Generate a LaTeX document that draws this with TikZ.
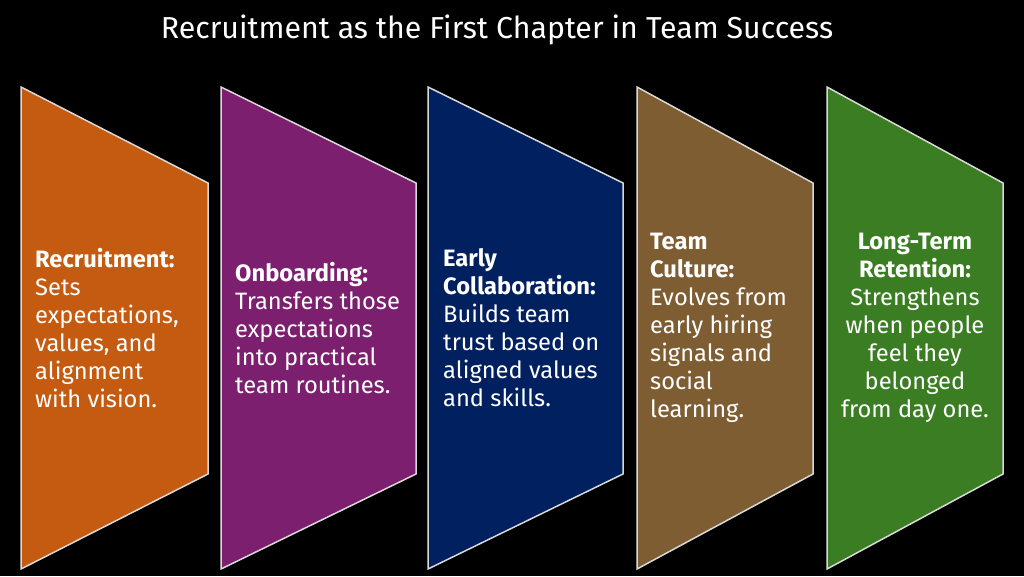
\documentclass[tikz,border=0pt]{standalone}
\usepackage{fontspec}
\setmainfont{Fira Sans}
\usetikzlibrary{positioning,calc}
\definecolor{rust}{HTML}{C55A11}
\definecolor{plum}{HTML}{7B1F6E}
\definecolor{navy}{HTML}{002060}
\definecolor{umber}{HTML}{7E5D32}
\definecolor{moss}{HTML}{3A7D22}
\definecolor{rim}{HTML}{D9D9D9}
\tikzset{
 panel/.style={draw=rim, line width=1.5pt, line join=miter},
 blurb/.style={text=white, inner sep=0pt, align=#1,
   font=\fontsize{23.7}{28}\selectfont},
 blurb/.default=left
}

\begin{document}
\begin{tikzpicture}[x=1pt,y=-1pt]

\fill[black] (0,0) rectangle (1024,576);
\useasboundingbox (0,0) rectangle (1024,576);

\path (497,38) node[anchor=base,text=white,font=\fontsize{30.3}{35}\selectfont,name=title]
  {Recruitment as the First Chapter in Team Success};

\foreach \l/\r/\c in {21/208/rust,221/416/plum,428/623/navy,637/813/umber,827/1003/moss}
  \filldraw[panel,fill=\c] (\l,87) -- (\r,183) -- (\r,474) -- (\l,569) -- cycle;

\path (35,328) node[blurb,anchor=west,name=recruit]
  {\textbf{Recruitment:}\\Sets\\expectations,\\values, and\\alignment\\with vision.};
\path (235,328) node[blurb,anchor=west,name=onboard]
  {\textbf{Onboarding:}\\Transfers those\\expectations\\into practical\\team routines.};
\path (443,328) node[blurb,anchor=west,name=collab]
  {\textbf{Early}\\\textbf{Collaboration:}\\Builds team\\trust based on\\aligned values\\and skills.};
\path (650,328) node[blurb,anchor=west,name=culture]
  {\textbf{Team}\\\textbf{Culture:}\\Evolves from\\early hiring\\signals and\\social\\learning.};
\path (915,328) node[blurb=center,name=retain]
  {\textbf{Long-Term}\\\textbf{Retention:}\\Strengthens\\when people\\feel they\\belonged\\from day one.};

\end{tikzpicture}
\end{document}
